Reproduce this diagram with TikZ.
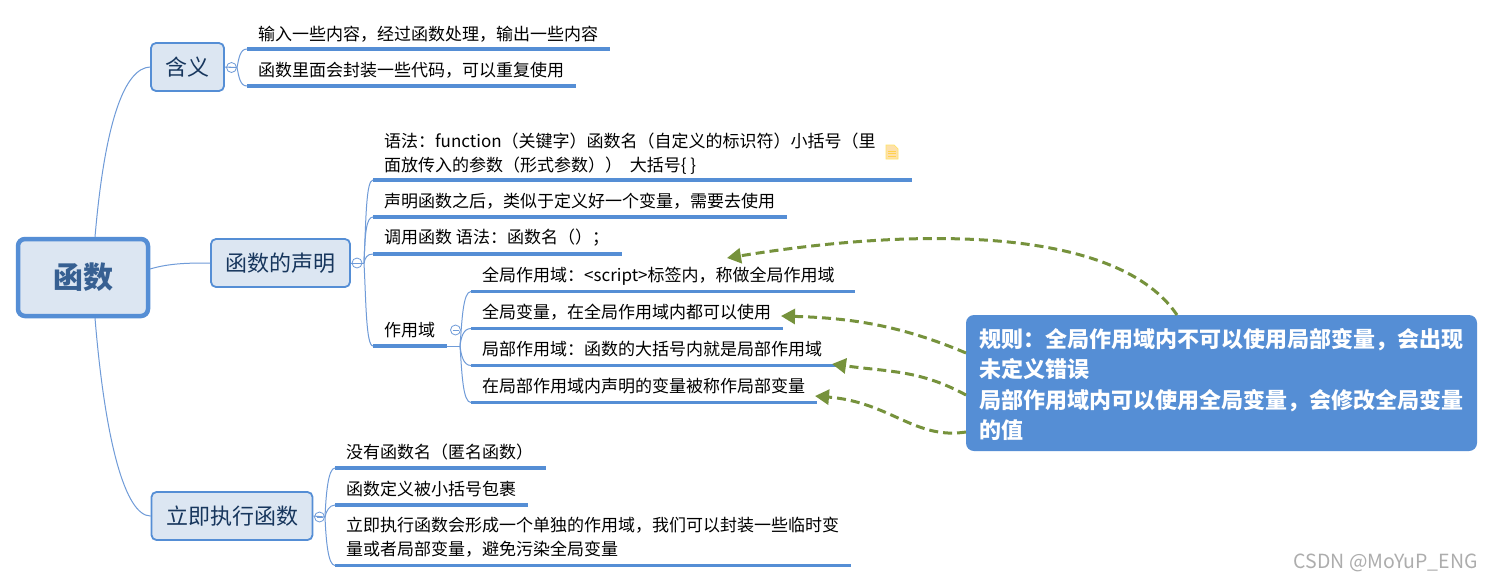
\documentclass[tikz,border=0pt]{standalone}
\usepackage{fontspec}
\setmainfont{Noto Sans CJK SC}
\usetikzlibrary{arrows.meta}
\definecolor{boxfill}{HTML}{DCE6F2}
\definecolor{boxline}{HTML}{558ED5}
\definecolor{thinline}{HTML}{6F9BD8}
\definecolor{roottext}{HTML}{376092}
\definecolor{subtext}{HTML}{17365D}
\definecolor{arrowgreen}{HTML}{76923C}
\tikzset{
  rootbox/.style={draw=boxline,fill=boxfill,line width=4.5pt,rounded corners=7pt,inner sep=0pt,text=roottext,font=\fontsize{30}{34}\selectfont\bfseries},
  subbox/.style={draw=boxline,fill=boxfill,line width=1.8pt,rounded corners=5pt,inner sep=0pt,text=subtext,font=\fontsize{22}{26}\selectfont},
  leaf/.style={anchor=base west,inner sep=0pt,text=black,font=\fontsize{17}{24}\selectfont,align=left},
  leafline/.style={draw=boxline,line width=3.2pt},
  thinlink/.style={draw=thinline,line width=1pt},
  hubdot/.style={circle,draw=thinline,fill=white,line width=.8pt,minimum size=10pt,inner sep=0pt},
  rulebox/.style={fill=boxline,rounded corners=8pt,inner sep=0pt},
  ruletext/.style={anchor=base west,inner sep=0pt,text=white,font=\fontsize{22}{30}\selectfont\bfseries},
  rel/.style={draw=arrowgreen,line width=3pt,dash pattern=on 9pt off 5pt,-{Triangle[length=14pt,width=15pt,fill=arrowgreen]}},
  wmark/.style={anchor=base east,inner sep=0pt,text=black!32,font=\fontsize{19.5}{24}\selectfont}
}
\newcommand{\hubminus}[1]{\draw[thinline,line width=.8pt] ([xshift=-3pt]#1.center) -- ([xshift=3pt]#1.center);}
\begin{document}
\begin{tikzpicture}[x=1pt,y=-1pt]
\useasboundingbox (0,0) rectangle (1493,582);
\fill[white] (0,0) rectangle (1493,582);

% boxes
\node[rootbox,minimum width=130pt,minimum height=77pt] (root) at (83,277.5) {\raisebox{-1.5pt}{函数}};
\node[subbox,minimum width=73pt,minimum height=48pt] (han) at (187.5,67) {\raisebox{-1pt}{含义}};
\node[subbox,minimum width=139pt,minimum height=48pt] (decl) at (280.5,263) {\raisebox{-1pt}{函数的声明}};
\node[subbox,minimum width=161pt,minimum height=48pt] (iife) at (232,516) {\raisebox{-1pt}{立即执行函数}};

% coordinates of connector ends
\coordinate (rt) at (95,237);
\coordinate (rr) at (150,269);
\coordinate (rb) at (95,318);
\coordinate (hubA) at (237,67.5);
\coordinate (hubB) at (364,263);
\coordinate (hubC) at (460,346);
\coordinate (hubD) at (325,517);

% root connectors
\draw[thinlink] (rt) .. controls (105,120) and (125,68) .. (han.west);
\draw[thinlink] (rr) .. controls (170,263) and (190,263) .. (decl.west);
\draw[thinlink] (rb) .. controls (105,440) and (125,516) .. (iife.west);

% hubs
\node[hubdot] (dotA) at (231.5,67.5) {};
\node[hubdot] (dotB) at (357,263) {};
\node[hubdot] (dotC) at (455.5,330) {};
\node[hubdot] (dotD) at (319.5,517) {};

% leaf line ends
\coordinate (a1) at (247,49); \coordinate (a1e) at (610,49);
\coordinate (a2) at (247,86); \coordinate (a2e) at (576,86);
\coordinate (b1) at (373,180); \coordinate (b1e) at (912,180);
\coordinate (b2) at (373,217); \coordinate (b2e) at (787,217);
\coordinate (b3) at (373,254); \coordinate (b3e) at (622,254);
\coordinate (b4) at (373,346); \coordinate (b4e) at (447,346);
\coordinate (c1) at (471,291.5); \coordinate (c1e) at (855,291.5);
\coordinate (c2) at (471,328.5); \coordinate (c2e) at (783,328.5);
\coordinate (c3) at (471,365.5); \coordinate (c3e) at (837,365.5);
\coordinate (c4) at (471,402.5); \coordinate (c4e) at (817,402.5);
\coordinate (d1) at (335,468); \coordinate (d1e) at (546,468);
\coordinate (d2) at (335,505); \coordinate (d2e) at (528,505);
\coordinate (d3) at (335,565.5); \coordinate (d3e) at (851,565.5);

% branch curves
\draw[thinlink] (han.east) -- (hubA);
\draw[thinlink] (hubA) .. controls (239,58) and (240,49) .. (a1);
\draw[thinlink] (hubA) .. controls (239,77) and (240,86) .. (a2);
\draw[thinlink] (decl.east) -- (hubB);
\draw[thinlink] (hubB) .. controls (366,220) and (366,180) .. (b1);
\draw[thinlink] (hubB) .. controls (365,235) and (366,217) .. (b2);
\draw[thinlink] (hubB) .. controls (365,258) and (367,254) .. (b3);
\draw[thinlink] (hubB) .. controls (366,300) and (366,346) .. (b4);
\draw[thinlink] (b4e) -- (hubC);
\draw[thinlink] (hubC) .. controls (462,320) and (463,291.5) .. (c1);
\draw[thinlink] (hubC) .. controls (461,338) and (463,328.5) .. (c2);
\draw[thinlink] (hubC) .. controls (461,354) and (463,365.5) .. (c3);
\draw[thinlink] (hubC) .. controls (462,375) and (463,402.5) .. (c4);
\draw[thinlink] (iife.east) -- (hubD);
\draw[thinlink] (hubD) .. controls (326,495) and (328,468) .. (d1);
\draw[thinlink] (hubD) .. controls (326,512) and (329,505) .. (d2);
\draw[thinlink] (hubD) .. controls (326,540) and (328,565.5) .. (d3);

\hubminus{dotA}\hubminus{dotB}\hubminus{dotC}\hubminus{dotD}

% leaf underlines
\foreach \p in {a1,a2,b1,b2,b3,b4,c1,c2,c3,c4,d1,d2,d3}{\draw[leafline] (\p) -- (\p e);}

% leaf texts
\node[leaf] (ta1) at (258,40) {输入一些内容，经过函数处理，输出一些内容};
\node[leaf] (ta2) at (258,76.5) {函数里面会封装一些代码，可以重复使用};
\node[leaf] (tb1) at (384,171.5) {语法：function（关键字）函数名（自定义的标识符）小括号（里\\面放传入的参数（形式参数））\ \ 大括号\{ \}};
\node[leaf] (tb2) at (384,207) {声明函数之后，类似于定义好一个变量，需要去使用};
\node[leaf] (tb3) at (384,243.5) {调用函数 语法：函数名（）；};
\node[leaf] (tb4) at (384,336) {作用域};
\node[leaf] (tc1) at (482,281.5) {全局作用域：<script>标签内，称做全局作用域};
\node[leaf] (tc2) at (482,318) {全局变量，在全局作用域内都可以使用};
\node[leaf] (tc3) at (482,355.5) {局部作用域：函数的大括号内就是局部作用域};
\node[leaf] (tc4) at (482,392) {在局部作用域内声明的变量被称作局部变量};
\node[leaf] (td1) at (346,458) {没有函数名（匿名函数）};
\node[leaf] (td2) at (346,495) {函数定义被小括号包裹};
\node[leaf] (td3) at (346,555) {立即执行函数会形成一个单独的作用域，我们可以封装一些临时变\\量或者局部变量，避免污染全局变量};

% note icon
\fill[yellow!25!orange!30,draw=orange!35!yellow!60,line width=.7pt] (886,145) -- (894,145) -- (898,149) -- (898,159) -- (886,159) -- cycle;
\foreach \yy in {151,153.5,156}{\draw[orange!50!yellow!70,line width=.8pt] (888,\yy) -- (896,\yy);}

% rule box
\fill[rulebox] (966,315) rectangle (1477,451);
\coordinate (rs1) at (1177,315);
\coordinate (rs2) at (966,353);
\coordinate (rs3) at (966,395);
\coordinate (rs4) at (966,432);
\coordinate (tg1) at (727,258);
\coordinate (tg2) at (781,316);
\coordinate (tg3) at (832,364);
\coordinate (tg4) at (815,396);
\node[ruletext] (r1) at (979,347) {规则：全局作用域内不可以使用局部变量，会出现};
\node[ruletext] (r2) at (979,377) {未定义错误};
\node[ruletext] (r3) at (979,408) {局部作用域内可以使用全局变量，会修改全局变量};
\node[ruletext] (r4) at (979,438) {的值};

% relation arrows
\draw[rel] (rs1) .. controls (1120,230) and (930,225) .. (tg1);
\draw[rel] (rs2) .. controls (900,325) and (850,318) .. (tg2);
\draw[rel] (rs3) .. controls (920,370) and (890,372) .. (tg3);
\draw[rel] (rs4) .. controls (915,440) and (890,402) .. (tg4);

\node[wmark] (wm) at (1478,568) {CSDN @MoYuP\_ENG};
\end{tikzpicture}
\end{document}
